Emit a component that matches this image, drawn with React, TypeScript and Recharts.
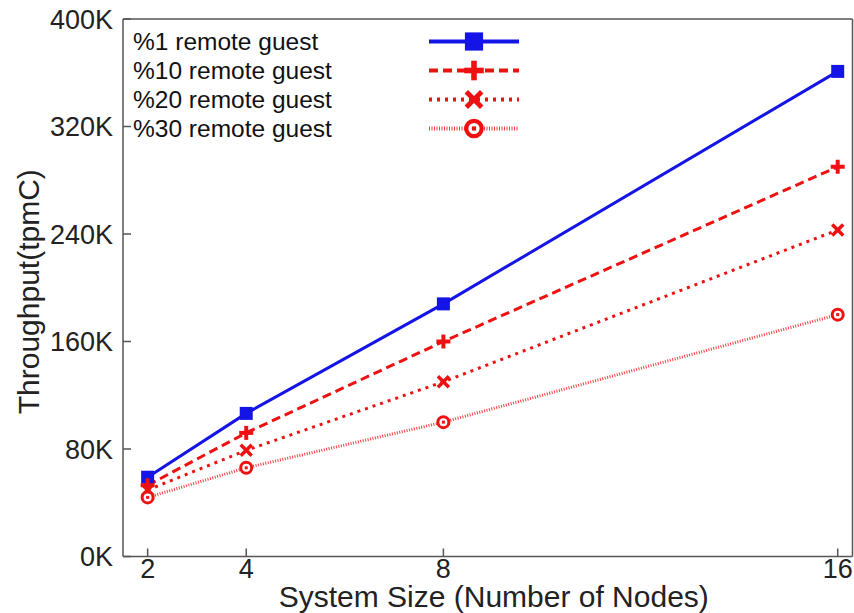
import React from 'react';
import { LineChart, Line, XAxis, YAxis, ReferenceLine, Legend } from 'recharts';

// values (tpmC)
const nodes = [2, 4, 8, 16];
const remote1 = [59000, 106500, 188000, 361000];
const remote10 = [53000, 92000, 160000, 290000];
const remote20 = [49500, 79000, 130000, 243000];
const remote30 = [44000, 66000, 100000, 180000];
const yTicks = [0, 80000, 160000, 240000, 320000, 400000];

const data = nodes.map((n, i) => ({
  nodes: n,
  r1: remote1[i],
  r10: remote10[i],
  r20: remote20[i],
  r30: remote30[i],
}));

const BLUE = '#1414e6';
const RED = '#ee1111';
const AXIS = '#555';
const FONT = '"Liberation Sans", Arial, sans-serif';

type Kind = 'square' | 'plus' | 'cross' | 'circle';

const series: { key: string; name: string; color: string; dash?: string; width: number; kind: Kind; opacity?: number }[] = [
  { key: 'r1', name: '%1 remote guest', color: BLUE, width: 3, kind: 'square' },
  { key: 'r10', name: '%10 remote guest', color: RED, dash: '9 5', width: 3, kind: 'plus' },
  { key: 'r20', name: '%20 remote guest', color: RED, dash: '3 5', width: 3, kind: 'cross' },
  { key: 'r30', name: '%30 remote guest', color: RED, dash: '1 1.5', width: 3, kind: 'circle', opacity: 0.8 },
];

const Marker = ({ kind, cx, cy, color, s = 1 }: { kind: Kind; cx: number; cy: number; color: string; s?: number }) => {
  if (kind === 'square') {
    const h = 6.5 * s;
    return <rect x={cx - h} y={cy - h} width={2 * h} height={2 * h} fill={color} />;
  }
  if (kind === 'plus') {
    const h = 7 * s;
    return (
      <g stroke={color} strokeWidth={4 * s}>
        <line x1={cx - h} x2={cx + h} y1={cy} y2={cy} />
        <line x1={cx} x2={cx} y1={cy - h} y2={cy + h} />
      </g>
    );
  }
  if (kind === 'cross') {
    const h = 5.5 * s;
    return (
      <g stroke={color} strokeWidth={3.5 * s}>
        <line x1={cx - h} x2={cx + h} y1={cy - h} y2={cy + h} />
        <line x1={cx - h} x2={cx + h} y1={cy + h} y2={cy - h} />
      </g>
    );
  }
  return (
    <g>
      <circle cx={cx} cy={cy} r={5.5 * s} fill="#fff" stroke={color} strokeWidth={3 * s} />
      <rect x={cx - 1.5 * s} y={cy - 1.5 * s} width={3 * s} height={3 * s} fill={color} />
    </g>
  );
};

const fmt = (v: number) => `${v / 1000}K`;

const YTick = (props: any) => {
  const { x, y, payload } = props;
  return (
    <g>
      <line x1={x} x2={x + 8} y1={y} y2={y} stroke={AXIS} strokeWidth={1.5} />
      <text x={x - 10} y={y} dy="0.36em" textAnchor="end" fontSize={27} fontFamily={FONT} fill="#222">
        {fmt(payload.value)}
      </text>
    </g>
  );
};

const XTick = (props: any) => {
  const { x, y, payload } = props;
  return (
    <g>
      <line x1={x} x2={x} y1={y} y2={y - 8} stroke={AXIS} strokeWidth={1.5} />
      <text x={x} y={y + 21} textAnchor="middle" fontSize={27} fontFamily={FONT} fill="#222">
        {payload.value}
      </text>
    </g>
  );
};

const LegendBox = () => (
  <div style={{ fontFamily: FONT, fontSize: 24.5, color: '#111', paddingTop: 8, paddingLeft: 10 }}>
    {series.map((s) => (
      <div key={s.key} style={{ display: 'flex', alignItems: 'center', height: 29 }}>
        <span style={{ width: 295, whiteSpace: 'nowrap' }}>{s.name}</span>
        <svg width={92} height={29} style={{ display: 'block' }}>
          <line x1={1} x2={91} y1={14.5} y2={14.5} stroke={s.color} strokeWidth={s.width + 1} strokeDasharray={s.dash} opacity={s.opacity} />
          <Marker kind={s.kind} cx={46} cy={14.5} color={s.color} s={1.4} />
        </svg>
      </div>
    ))}
  </div>
);

export default function App() {
  return (
    <div style={{ position: 'absolute', left: 0, top: 0, background: '#fff' }}>
      <LineChart width={854} height={613} data={data} margin={{ top: 19, right: 1.5, left: 0, bottom: 0 }}>
        <XAxis
          dataKey="nodes"
          type="number"
          domain={[1.5, 16.3]}
          ticks={nodes}
          allowDataOverflow
          height={56.5}
          stroke={AXIS}
          strokeWidth={1.5}
          tickLine={false}
          tickSize={0}
          tickMargin={0}
          tick={<XTick />}
          label={{
            content: (p: any) => {
              const vb = p.viewBox;
              return (
                <text x={vb.x + vb.width / 2 + 6} y={vb.y + 50} textAnchor="middle" fontSize={30} fontFamily={FONT} fill="#222">
                  System Size (Number of Nodes)
                </text>
              );
            },
          }}
        />
        <YAxis
          type="number"
          domain={[0, 400000]}
          ticks={yTicks}
          width={123}
          stroke={AXIS}
          strokeWidth={1.5}
          tickLine={false}
          tickSize={0}
          tickMargin={0}
          tick={<YTick />}
          label={{
            content: (p: any) => {
              const vb = p.viewBox;
              const cx = 28;
              const cy = vb.y + vb.height / 2 + 4;
              return (
                <text x={cx} y={cy} transform={`rotate(-90 ${cx} ${cy})`} dy="0.36em" textAnchor="middle" fontSize={30} fontFamily={FONT} fill="#222">
                  Throughput(tpmC)
                </text>
              );
            },
          }}
        />
        <ReferenceLine y={400000} stroke={AXIS} strokeWidth={1.5} />
        <ReferenceLine x={16.3} stroke={AXIS} strokeWidth={1.5} />
        {series.map((s) => (
          <Line
            key={s.key}
            dataKey={s.key}
            name={s.name}
            stroke={s.color}
            strokeWidth={s.width}
            strokeDasharray={s.dash}
            strokeOpacity={s.opacity ?? 1}
            isAnimationActive={false}
            dot={(p: any) => <Marker key={`${s.key}-${p.index}`} kind={s.kind} cx={p.cx} cy={p.cy} color={s.color} />}
            activeDot={false}
          />
        ))}
        <Legend
          layout="horizontal"
          verticalAlign="middle"
          content={<LegendBox />}
          wrapperStyle={{ position: 'absolute', top: 19, left: 123, width: 420 }}
        />
      </LineChart>
    </div>
  );
}
